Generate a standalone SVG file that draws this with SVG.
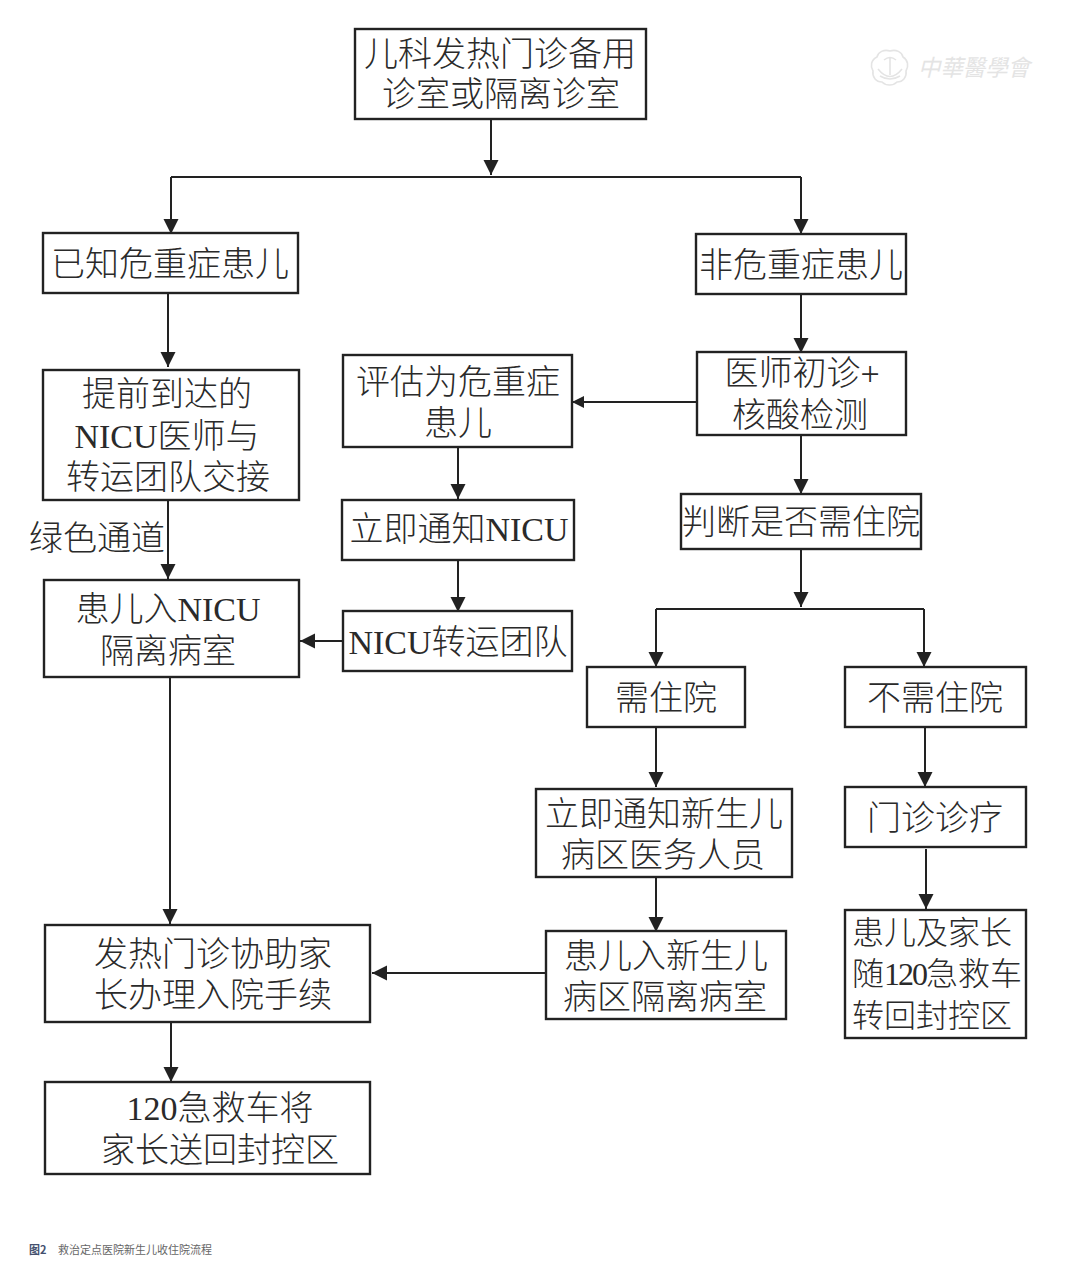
<svg xmlns="http://www.w3.org/2000/svg" width="1080" height="1275" viewBox="0 0 1080 1275">
<style>
  .box { fill: #fff; stroke: #222; stroke-width: 2.4; }
  .t { font-family: "Liberation Serif", "Noto Sans CJK SC", serif; font-size: 34px; fill: #2a2a2a; text-anchor: middle; font-weight: 300; }
  .s { font-size: 32px; text-anchor: start; }
  .c { fill: none; stroke: #222; stroke-width: 2; }
  .a { marker-end: url(#head); }
  .as { marker-end: url(#head-small); }
  .cap { font-family: "Noto Sans CJK SC", sans-serif; font-size: 11px; }
  .mark { font-family: "Noto Sans CJK TC", sans-serif; font-size: 23px; font-style: italic; fill: #e4e4e4; }
  .seal { fill: none; stroke: #e4e4e4; stroke-width: 1.6; }
</style>
<defs>
  <marker id="head" markerUnits="userSpaceOnUse" markerWidth="17" markerHeight="16" refX="15" refY="8" orient="auto">
    <path d="M0 0.5L15 8L0 15.5Z" fill="#222"/>
  </marker>
  <marker id="head-small" markerUnits="userSpaceOnUse" markerWidth="13" markerHeight="13" refX="12" refY="6" orient="auto">
    <path d="M0 0L12 6L0 12Z" fill="#222"/>
  </marker>
</defs>
<rect width="1080" height="1275" fill="#fff"/>

<g id="connectors">
  <path class="c a" d="M491 119V175"/>
  <path class="c" d="M171 177H801"/>
  <path class="c a" d="M171 177V234"/>
  <path class="c a" d="M801 177V234"/>
  <path class="c a" d="M168 293V367"/>
  <path class="c a" d="M801 294V353"/>
  <path class="c as" d="M697 402H572"/>
  <path class="c a" d="M458 447V499"/>
  <path class="c a" d="M458 560V612"/>
  <path class="c a" d="M801 435V494"/>
  <path class="c a" d="M801 549V607"/>
  <path class="c" d="M656 609H924"/>
  <path class="c a" d="M656 609V667"/>
  <path class="c a" d="M924 609V667"/>
  <path class="c a" d="M656 727V787"/>
  <path class="c a" d="M925 727V787"/>
  <path class="c a" d="M656 877V932"/>
  <path class="c a" d="M926 849V909"/>
  <path class="c a" d="M546 973H372"/>
  <path class="c a" d="M168 500V579"/>
  <path class="c a" d="M343 641H300"/>
  <path class="c a" d="M170 677V924"/>
  <path class="c a" d="M171 1022V1082"/>
</g>

<g id="n-clinic"><rect class="box" x="355" y="29" width="291" height="90"/><text class="t" x="500" y="66">儿科发热门诊备用</text><text class="t" x="501" y="106">诊室或隔离诊室</text></g>
<g id="n-known"><rect class="box" x="43" y="233" width="255" height="60"/><text class="t" x="170" y="276">已知危重症患儿</text></g>
<g id="n-noncritical"><rect class="box" x="696" y="234" width="210" height="60"/><text class="t" x="801" y="277">非危重症患儿</text></g>
<g id="n-handover"><rect class="box" x="43" y="370" width="256" height="130"/><text class="t" x="167" y="406">提前到达的</text><text class="t" x="167" y="448">NICU医师与</text><text class="t" x="168" y="489">转运团队交接</text></g>
<g id="n-assess"><rect class="box" x="343" y="355" width="229" height="92"/><text class="t" x="458" y="394">评估为危重症</text><text class="t" x="458" y="435">患儿</text></g>
<g id="n-doctor"><rect class="box" x="697" y="352" width="209" height="83"/><text class="t" x="802" y="385">医师初诊+</text><text class="t" x="800" y="427">核酸检测</text></g>
<g id="n-judge"><rect class="box" x="681" y="494" width="240" height="55"/><text class="t" x="801" y="534">判断是否需住院</text></g>
<g id="n-notify"><rect class="box" x="342" y="500" width="232" height="60"/><text class="t" x="459" y="541">立即通知NICU</text></g>
<g id="n-isolation"><rect class="box" x="44" y="580" width="255" height="97"/><text class="t" x="168" y="621">患儿入NICU</text><text class="t" x="168" y="663">隔离病室</text></g>
<g id="n-team"><rect class="box" x="343" y="611" width="229" height="60"/><text class="t" x="458" y="654">NICU转运团队</text></g>
<g id="n-admit"><rect class="box" x="587" y="667" width="158" height="60"/><text class="t" x="666" y="710">需住院</text></g>
<g id="n-noadmit"><rect class="box" x="845" y="667" width="181" height="60"/><text class="t" x="935" y="710">不需住院</text></g>
<g id="n-notify-ward"><rect class="box" x="536" y="789" width="256" height="88"/><text class="t" x="664" y="826">立即通知新生儿</text><text class="t" x="663" y="867">病区医务人员</text></g>
<g id="n-outpatient"><rect class="box" x="845" y="787" width="181" height="60"/><text class="t" x="935" y="830">门诊诊疗</text></g>
<g id="n-assist"><rect class="box" x="45" y="925" width="325" height="97"/><text class="t" x="213" y="966">发热门诊协助家</text><text class="t" x="213" y="1007">长办理入院手续</text></g>
<g id="n-ward"><rect class="box" x="546" y="931" width="240" height="88"/><text class="t" x="666" y="968">患儿入新生儿</text><text class="t" x="665" y="1009">病区隔离病室</text></g>
<g id="n-return"><rect class="box" x="845" y="910" width="181" height="128" stroke-width="3"/><text class="t s" x="852" y="944">患儿及家长</text><text class="t s" x="852" y="985">随<tspan letter-spacing="-2">120</tspan>急救车</text><text class="t s" x="852" y="1027">转回封控区</text></g>
<g id="n-ambulance"><rect class="box" x="45" y="1082" width="325" height="92"/><text class="t" x="220" y="1120">120急救车将</text><text class="t" x="220" y="1162">家长送回封控区</text></g>

<text id="label-green" class="t" x="97" y="550">绿色通道</text>

<g id="watermark">
  <path class="seal" d="M890 51C896 49 902 52 903 57C908 60 909 66 906 71C907 77 903 82 897 82C893 86 886 86 882 82C876 82 872 77 873 71C870 66 871 60 877 57C878 52 884 49 890 51Z"/>
  <path class="seal" d="M878 69Q890 84 902 69M884 60Q890 55 896 60M890 58V75M880 76Q890 82 900 76"/>
  <text class="mark" x="918" y="76" textLength="112" lengthAdjust="spacingAndGlyphs">中華醫學會</text>
</g>

<g id="caption">
  <text class="cap" x="29" y="1254" font-weight="700" fill="#44506e">图2</text>
  <text class="cap" x="58" y="1254" fill="#666">救治定点医院新生儿收住院流程</text>
</g>
</svg>
